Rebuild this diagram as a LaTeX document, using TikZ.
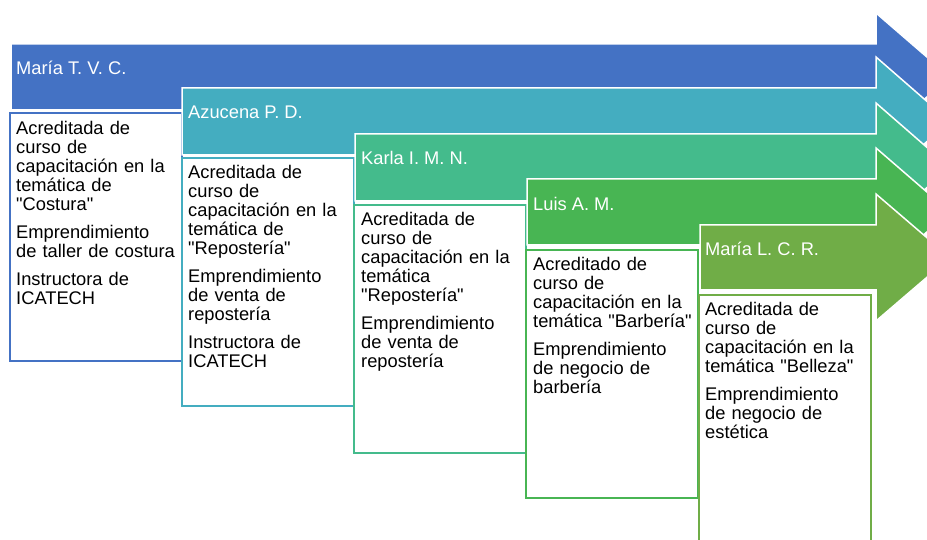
\documentclass[tikz,border=0pt]{standalone}
\usepackage{fontspec}
\setmainfont{Liberation Sans}
\definecolor{cA}{HTML}{4472C4}
\definecolor{cB}{HTML}{44ADC0}
\definecolor{cC}{HTML}{44BB8C}
\definecolor{cD}{HTML}{48B553}
\definecolor{cE}{HTML}{70AD47}
\newcommand\drawbigarrow[4]{%
  \fill[#1,draw=white,line width=1.5pt,line join=miter]
    (#2,#3) -- (876,#3) -- (876,#3-31) -- (950,{(#3+#4)/2}) -- (876,#4+31) -- (876,#4) -- (#2,#4) -- cycle;}
\newcommand\bodytxt[1]{\setlength\parindent{0pt}\setlength\parskip{9pt}#1}
\newcommand\qq{\textquotedbl}
\tikzset{
  titletxt/.style={text=white,anchor=base west,inner sep=0pt,font=\fontsize{18.3}{19}\selectfont},
  boxshape/.style={draw=#1,fill=white,line width=2pt,anchor=north west,minimum width=172pt,minimum height=248pt,inner sep=0pt,outer sep=0pt},
  bodynode/.style={anchor=north west,inner sep=0pt,text width=170pt,align=left,font=\fontsize{18.3}{19}\selectfont},
}
\begin{document}
\begin{tikzpicture}[x=1pt,y=-1pt]
\useasboundingbox (0,0) rectangle (927,540);
\clip (0,0) rectangle (927,540);
% arrow 1
\drawbigarrow{cA}{11}{44}{110}
\node[titletxt] (t1) at (16,75) {María T. V. C.};
\node[boxshape=cA] (b1) at (10,113) {};
\node[bodynode] (x1) at (16,121) {\bodytxt{Acreditada de\\curso de\\capacitación en la\\temática de\\\qq Costura\qq\par Emprendimiento\\de taller de costura\par Instructora de\\ICATECH}};
% arrow 2
\drawbigarrow{cB}{182}{88}{155}
\node[titletxt] (t2) at (188,119) {Azucena P. D.};
\node[boxshape=cB] (b2) at (182,158) {};
\node[bodynode] (x2) at (188,165) {\bodytxt{Acreditada de\\curso de\\capacitación en la\\temática de\\\qq Repostería\qq\par Emprendimiento\\de venta de\\repostería\par Instructora de\\ICATECH}};
% arrow 3
\drawbigarrow{cC}{355}{134}{201}
\node[titletxt] (t3) at (361,165) {Karla I. M. N.};
\node[boxshape=cC] (b3) at (354,205) {};
\node[bodynode] (x3) at (361,212) {\bodytxt{Acreditada de\\curso de\\capacitación en la\\temática\\\qq Repostería\qq\par Emprendimiento\\de venta de\\repostería}};
% arrow 4
\drawbigarrow{cD}{527}{179}{245}
\node[titletxt] (t4) at (533,211) {Luis A. M.};
\node[boxshape=cD] (b4) at (526,250) {};
\node[bodynode] (x4) at (533,257) {\bodytxt{Acreditado de\\curso de\\capacitación en la\\temática \qq Barbería\qq\par Emprendimiento\\de negocio de\\barbería}};
% arrow 5
\drawbigarrow{cE}{700}{225}{290}
\node[titletxt] (t5) at (705,256) {María L. C. R.};
\node[boxshape=cE] (b5) at (699,295) {};
\node[bodynode] (x5) at (705,302) {\bodytxt{Acreditada de\\curso de\\capacitación en la\\temática \qq Belleza\qq\par Emprendimiento\\de negocio de\\estética}};
\end{tikzpicture}
\end{document}
